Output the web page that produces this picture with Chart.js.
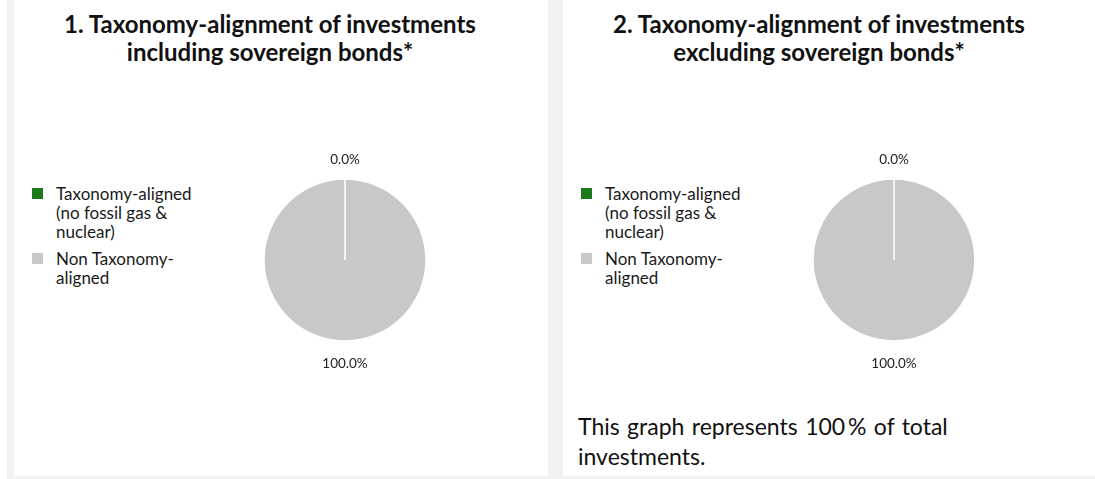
<!DOCTYPE html>
<html>
<head>
<meta charset="utf-8">
<title>Taxonomy-alignment of investments</title>
<script src="https://cdn.jsdelivr.net/npm/chart.js@4/dist/chart.umd.min.js"></script>
<style>
  html, body { margin: 0; padding: 0; background: #fff; }
  #page { position: relative; width: 1095px; height: 479px; overflow: hidden; font-family: Lato, "Open Sans", sans-serif; color: #111; }
  .back { position: absolute; left: 7px; top: 0; right: 0; bottom: 0; background: #f2f2f2; }
  .panel { position: absolute; top: 0; height: 476px; background: #fff; }
  #p1 { left: 14px; width: 534px; }
  #p2 { left: 563px; width: 532px; }
  .title { position: absolute; left: 0; width: 512px; top: 10px; text-align: center; font-weight: 700; font-size: 24px; line-height: 28px; }
  .legend { position: absolute; left: 18px; top: 0; }
  .item { position: absolute; left: 0; width: 190px; }
  .swatch { position: absolute; left: 0; width: 11px; height: 11px; }
  .label { position: absolute; left: 24px; width: 170px; font-size: 17px; line-height: 19px; color: #1a1a1a; }
  .pie { position: absolute; left: 201px; top: 130px; width: 260px; height: 260px; }
  .note { position: absolute; left: 15px; top: 411px; width: 510px; font-size: 23px; line-height: 30px; word-spacing: 1.5px; }
</style>
</head>
<body>
<div id="page">
  <div class="back"></div>
  <div class="panel" id="p1">
    <div class="title" id="t1"></div>
    <div class="legend" id="l1"></div>
    <div class="pie"><canvas id="c1" width="260" height="260"></canvas></div>
  </div>
  <div class="panel" id="p2">
    <div class="title" id="t2"></div>
    <div class="legend" id="l2"></div>
    <div class="pie"><canvas id="c2" width="260" height="260"></canvas></div>
    <div class="note" id="note"></div>
  </div>
</div>
<script>
// Categories shown in both pies
const categories = ['Taxonomy-aligned (no fossil gas & nuclear)', 'Non Taxonomy-aligned'];
// Legend text, broken into the lines it is printed on
const legendLines = [
  ['Taxonomy-aligned', '(no fossil gas &', 'nuclear)'],
  ['Non Taxonomy-', 'aligned']
];
const sliceColors = ['#1b7a1b', '#c8c8c8'];

// Shares in percent
const includingSovereign = [0.0, 100.0];
const excludingSovereign = [0.0, 100.0];

const titleIncluding = ['1. Taxonomy-alignment of investments', 'including sovereign bonds*'];
const titleExcluding = ['2. Taxonomy-alignment of investments', 'excluding sovereign bonds*'];
const noteText = ['This graph represents 100\u2009% of total', 'investments.'];

// Writes the multi-line title
function fillTitle(id, lines) {
  const el = document.getElementById(id);
  el.innerHTML = lines.map(l => l.replace(/&/g, '&amp;')).join('<br>');
}

// Builds the side legend from the categories and their colours
function fillLegend(id) {
  const el = document.getElementById(id);
  const tops = [184, 249];
  categories.forEach((name, i) => {
    const item = document.createElement('div');
    item.className = 'item';
    item.style.top = tops[i] + 'px';
    item.title = name;
    const sw = document.createElement('div');
    sw.className = 'swatch';
    sw.style.top = '4px';
    sw.style.background = sliceColors[i];
    const lab = document.createElement('div');
    lab.className = 'label';
    lab.innerHTML = legendLines[i].map(l => l.replace(/&/g, '&amp;')).join('<br>');
    item.appendChild(sw);
    item.appendChild(lab);
    el.appendChild(item);
  });
}

// Percentage labels placed just outside each slice, at its middle angle
const sliceLabels = {
  id: 'sliceLabels',
  afterDatasetsDraw(chart, args, opts) {
    const ctx = chart.ctx;
    const meta = chart.getDatasetMeta(0);
    const values = chart.data.datasets[0].data;
    ctx.save();
    ctx.font = opts.font;
    ctx.fillStyle = opts.color;
    ctx.textAlign = 'center';
    ctx.textBaseline = 'middle';
    meta.data.forEach((arc, i) => {
      const p = arc.getProps(['x', 'y', 'startAngle', 'endAngle', 'outerRadius'], true);
      const mid = (p.startAngle + p.endAngle) / 2;
      const r = p.outerRadius + opts.offset;
      ctx.fillText(values[i].toFixed(1) + '%', p.x + Math.cos(mid) * r, p.y + Math.sin(mid) * r + opts.dy);
    });
    ctx.restore();
  }
};

function makePie(id, values) {
  return new Chart(document.getElementById(id), {
    type: 'pie',
    data: {
      labels: categories,
      datasets: [{
        data: values,
        backgroundColor: sliceColors,
        borderColor: '#ffffff',
        borderWidth: 1.5,
        hoverOffset: 0
      }]
    },
    options: {
      responsive: false,
      animation: false,
      radius: 81,
      layout: { padding: 0 },
      events: [],
      plugins: {
        legend: { display: false },
        tooltip: { enabled: false },
        title: { display: false },
        sliceLabels: { font: '13.5px Lato, "Open Sans", sans-serif', color: '#222', offset: 21, dy: 1.5 }
      }
    },
    plugins: [sliceLabels]
  });
}

fillTitle('t1', titleIncluding);
fillTitle('t2', titleExcluding);
fillLegend('l1');
fillLegend('l2');
document.getElementById('note').innerHTML = noteText.join('<br>');
makePie('c1', includingSovereign);
makePie('c2', excludingSovereign);
</script>
</body>
</html>
